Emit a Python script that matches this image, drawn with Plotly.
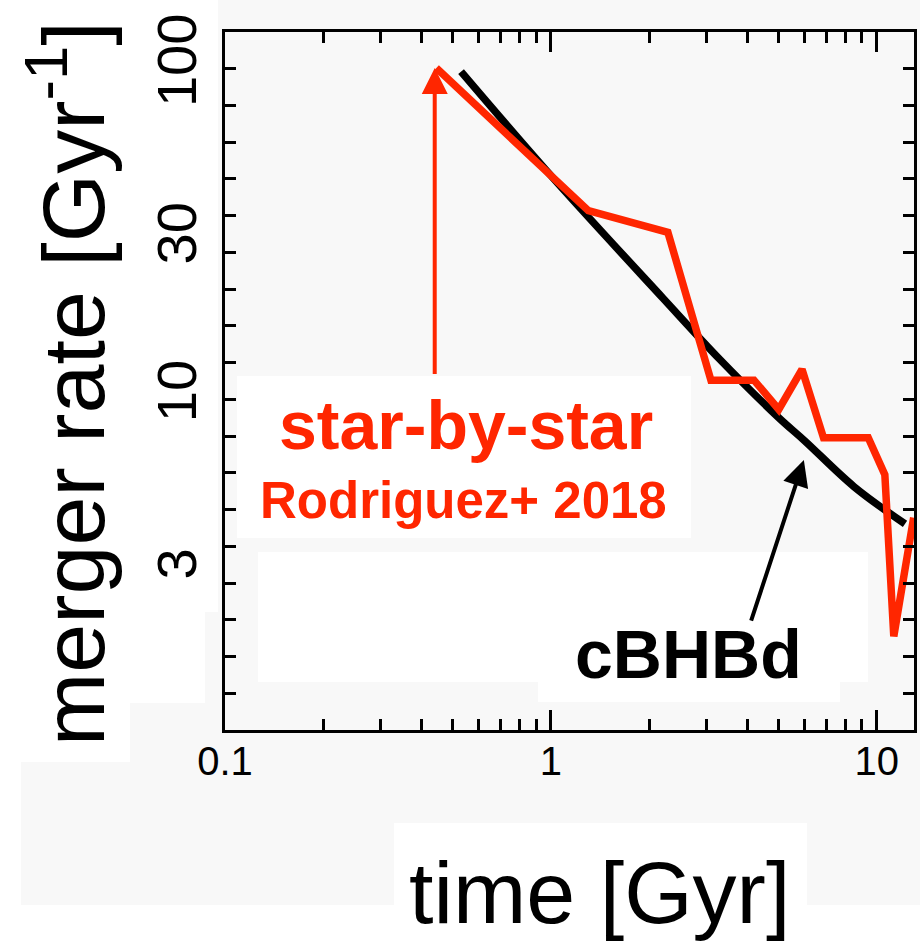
import math
import plotly.graph_objects as go

# ---------------- data ----------------
t_star = [0.445, 1.303, 2.285, 3.097, 4.197, 5.00, 5.894, 6.86, 9.41, 10.58, 11.27, 12.97]
r_star = [100.5, 37.2, 32.0, 11.43, 11.43, 9.32, 12.32, 7.65, 7.65, 5.92, 1.92, 4.39]

t_cbhbd = [0.53, 1.0, 2.2, 3.3, 5.0, 6.0, 8.5, 12.2]
r_cbhbd = [98.0, 47.5, 20.3, 13.2, 8.8, 7.5, 5.45, 4.2]

x_ticks = [0.1, 1, 10]
x_tick_labels = ["0.1", "1", "10"]
y_ticks = [3, 10, 30, 100]
y_tick_labels = ["3", "10", "30", "100"]

# ---------------- styling ----------------
W, H = 920, 941
ML, MR, MT, MB = 225, 6, 32, 211
RED = "rgb(255,38,0)"
GRAY = "#f8f8f8"
FONT = "Liberation Sans, Arial, Helvetica, sans-serif"


def px(x):
    return (x - ML) / (W - ML - MR)


def py(y):
    return (H - MB - y) / (H - MT - MB)


fig = go.Figure()
fig.add_trace(go.Scatter(x=t_cbhbd, y=r_cbhbd, mode="lines",
                         line=dict(color="black", width=7.5, shape="spline"),
                         hoverinfo="skip", showlegend=False))
fig.add_trace(go.Scatter(x=t_star, y=r_star, mode="lines",
                         line=dict(color=RED, width=7.5),
                         hoverinfo="skip", showlegend=False))

# background panels (composite look)
rects = [
    (21, 0, 920, 905, GRAY),
    (0, 0, 218, 612, "white"),
    (0, 612, 205, 703, "white"),
    (0, 703, 130, 762, "white"),
    (394, 823, 807, 941, "white"),
    (237, 376, 691, 538, "white"),
    (258, 552, 868, 682, "white"),
    (538, 682, 840, 702, "white"),
]
shapes = []
for x0, y0, x1, y1, c in rects:
    shapes.append(dict(type="rect", xref="paper", yref="paper",
                       x0=px(x0), x1=px(x1), y0=py(y1), y1=py(y0),
                       fillcolor=c, line=dict(width=0), layer="below"))

minor_x = [k * 10 ** e for e in (-1, 0) for k in range(2, 10)]
minor_y = [10 ** (k / 9) for k in range(1, 19)]

annotations = [
    # red arrow
    dict(x=math.log10(0.44), y=math.log10(100.5), ax=math.log10(0.44), ay=math.log10(11.8),
         xref="x", yref="y", axref="x", ayref="y", text="", showarrow=True,
         arrowhead=2, arrowsize=1.3, arrowwidth=4, arrowcolor=RED, standoff=0),
    # black arrow
    dict(x=math.log10(5.97), y=math.log10(6.55), ax=math.log10(4.10), ay=math.log10(2.12),
         xref="x", yref="y", axref="x", ayref="y", text="", showarrow=True,
         arrowhead=2, arrowsize=1.3, arrowwidth=4, arrowcolor="black", standoff=0),
    dict(text="<b>star-by-star</b>", x=px(466), y=py(425), xref="paper", yref="paper",
         showarrow=False, xanchor="center", yanchor="middle",
         font=dict(family=FONT, size=68, color=RED)),
    dict(text="<b>Rodriguez+ 2018</b>", x=px(463.5), y=py(500.6), xref="paper", yref="paper",
         showarrow=False, xanchor="center", yanchor="middle",
         font=dict(family=FONT, size=51, color=RED)),
    dict(text="<b>cBHBd</b>", x=px(688), y=py(654), xref="paper", yref="paper",
         showarrow=False, xanchor="center", yanchor="middle",
         font=dict(family=FONT, size=68, color="black")),
    dict(text="time [Gyr]", x=px(599), y=py(892), xref="paper", yref="paper",
         showarrow=False, xanchor="center", yanchor="middle",
         font=dict(family=FONT, size=88, color="black")),
    dict(text="merger rate [Gyr<sup>-1</sup>]", x=px(67), y=py(384), xref="paper", yref="paper",
         showarrow=False, xanchor="center", yanchor="middle", textangle=-90,
         font=dict(family=FONT, size=88, color="black")),
]

axis_common = dict(type="log", showline=True, linecolor="black", linewidth=3,
                   mirror="allticks", showgrid=False, zeroline=False,
                   tickcolor="black", tickwidth=3, automargin=False)

fig.update_layout(
    width=W, height=H,
    margin=dict(l=ML, r=MR, t=MT, b=MB, pad=0, autoexpand=False),
    paper_bgcolor="white",
    plot_bgcolor="rgba(0,0,0,0)",
    shapes=shapes,
    annotations=annotations,
    xaxis=dict(**axis_common, range=[-1, math.log10(13)],
               ticks="inside", ticklen=20, tickmode="array",
               tickvals=x_ticks, ticktext=x_tick_labels,
               tickfont=dict(family=FONT, size=40, color="black"),
               ticklabelstandoff=-6,
               minor=dict(tickmode="array", tickvals=minor_x, ticks="inside",
                          ticklen=11, tickwidth=3, tickcolor="black")),
    yaxis=dict(**axis_common, range=[0, 2 + 1 / 9],
               ticks="inside", ticklen=0, tickmode="array",
               tickvals=y_ticks, ticktext=y_tick_labels, tickangle=-90,
               tickfont=dict(family=FONT, size=56, color="black"),
               ticklabelstandoff=4,
               minor=dict(tickmode="array", tickvals=minor_y, ticks="inside",
                          ticklen=11, tickwidth=3, tickcolor="black")),
)

fig.write_html("out.html",
               config={"displayModeBar": False, "staticPlot": True},
               post_script="document.body.style.margin='0';document.body.style.overflow='hidden';")
